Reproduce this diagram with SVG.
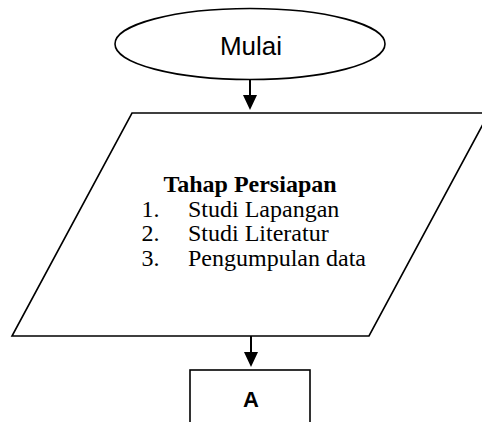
<svg xmlns="http://www.w3.org/2000/svg" width="482" height="422" viewBox="0 0 482 422">
<defs>
<style>
.shape{fill:#fff;stroke:#000;stroke-width:1.6}
.conn{stroke:#000;stroke-width:2;fill:none}
.sans{font-family:"Liberation Sans",Arial,sans-serif;fill:#000}
.serif{font-family:"Liberation Serif","Times New Roman",serif;fill:#000;font-size:24px}
</style>
</defs>
<rect width="482" height="422" fill="#fff"/>
<g id="mulai">
<ellipse class="shape" cx="250" cy="44" rx="135" ry="35.5"/>
<text class="sans" x="251" y="55" font-size="26" text-anchor="middle">Mulai</text>
</g>
<g id="persiapan">
<polygon class="shape" points="132,113 489,113 369,336 12,336"/>
<text class="serif" x="250" y="192" font-weight="bold" text-anchor="middle">Tahap Persiapan</text>
<text class="serif" x="141.5" y="216.5">1.</text>
<text class="serif" x="188" y="216.5">Studi Lapangan</text>
<text class="serif" x="141.5" y="241">2.</text>
<text class="serif" x="188" y="241">Studi Literatur</text>
<text class="serif" x="141.5" y="265.5">3.</text>
<text class="serif" x="188" y="265.5">Pengumpulan data</text>
</g>
<g id="a">
<rect class="shape" x="190" y="370" width="120" height="80"/>
<text class="sans" x="251" y="406.5" font-size="22" font-weight="bold" text-anchor="middle">A</text>
</g>
<g id="connectors">
<line x1="250" y1="80" x2="250" y2="95" class="conn"/>
<polygon points="243,95 257,95 250,110" fill="#000"/>
<line x1="251" y1="336" x2="251" y2="352" class="conn"/>
<polygon points="244,352 258,352 251,367" fill="#000"/>
</g>
</svg>
